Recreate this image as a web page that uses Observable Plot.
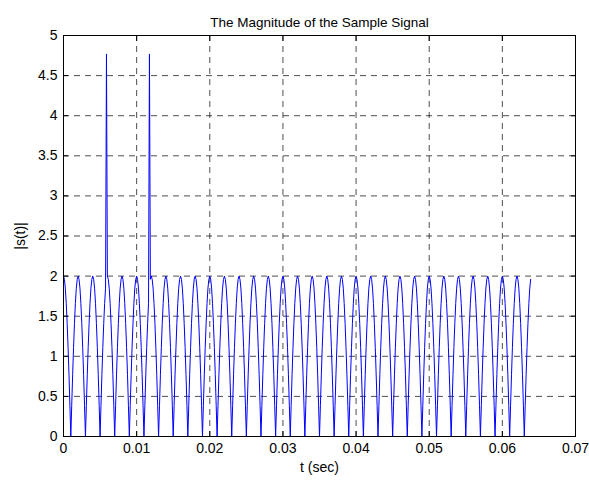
<!DOCTYPE html>
<html><head><meta charset="utf-8">
<script src="https://cdn.jsdelivr.net/npm/d3@7"></script>
<script src="https://cdn.jsdelivr.net/npm/@observablehq/plot@0.6"></script>
<style>body{margin:0;background:#fff;}</style>
</head><body><div id="chart"></div>
<script>
const titleText = "The Magnitude of the Sample Signal";
const xLabel = "t (sec)";
const yLabel = "|s(t)|";
const xTicks = [0, 0.01, 0.02, 0.03, 0.04, 0.05, 0.06, 0.07];
const yTicks = [0, 0.5, 1, 1.5, 2, 2.5, 3, 3.5, 4, 4.5, 5];
const sampleRate = 8000; // samples per second
const magnitude = [
2,1.96,1.85,1.66,1.41,1.11,0.77,0.39,0,0.39,0.77,1.11,1.41,1.66,1.85,1.96,
2,1.96,1.85,1.66,1.41,1.11,0.77,0.39,0,0.39,0.77,1.11,1.41,1.66,1.85,1.96,
2,1.96,1.85,1.66,1.41,1.11,0.77,0.39,0,0.39,0.77,1.11,1.41,1.66,1.85,4.77,
2,1.96,1.85,1.66,1.41,1.11,0.77,0.39,0,0.39,0.77,1.11,1.41,1.66,1.85,1.96,
2,1.96,1.85,1.66,1.41,1.11,0.77,0.39,0,0.39,0.77,1.11,1.41,1.66,1.85,1.96,
2,1.96,1.85,1.66,1.41,1.11,0.77,0.39,0,0.39,0.77,1.11,1.41,1.66,4.77,1.96,
2,1.96,1.85,1.66,1.41,1.11,0.77,0.39,0,0.39,0.77,1.11,1.41,1.66,1.85,1.96,
2,1.96,1.85,1.66,1.41,1.11,0.77,0.39,0,0.39,0.77,1.11,1.41,1.66,1.85,1.96,
2,1.96,1.85,1.66,1.41,1.11,0.77,0.39,0,0.39,0.77,1.11,1.41,1.66,1.85,1.96,
2,1.96,1.85,1.66,1.41,1.11,0.77,0.39,0,0.39,0.77,1.11,1.41,1.66,1.85,1.96,
2,1.96,1.85,1.66,1.41,1.11,0.77,0.39,0,0.39,0.77,1.11,1.41,1.66,1.85,1.96,
2,1.96,1.85,1.66,1.41,1.11,0.77,0.39,0,0.39,0.77,1.11,1.41,1.66,1.85,1.96,
2,1.96,1.85,1.66,1.41,1.11,0.77,0.39,0,0.39,0.77,1.11,1.41,1.66,1.85,1.96,
2,1.96,1.85,1.66,1.41,1.11,0.77,0.39,0,0.39,0.77,1.11,1.41,1.66,1.85,1.96,
2,1.96,1.85,1.66,1.41,1.11,0.77,0.39,0,0.39,0.77,1.11,1.41,1.66,1.85,1.96,
2,1.96,1.85,1.66,1.41,1.11,0.77,0.39,0,0.39,0.77,1.11,1.41,1.66,1.85,1.96,
2,1.96,1.85,1.66,1.41,1.11,0.77,0.39,0,0.39,0.77,1.11,1.41,1.66,1.85,1.96,
2,1.96,1.85,1.66,1.41,1.11,0.77,0.39,0,0.39,0.77,1.11,1.41,1.66,1.85,1.96,
2,1.96,1.85,1.66,1.41,1.11,0.77,0.39,0,0.39,0.77,1.11,1.41,1.66,1.85,1.96,
2,1.96,1.85,1.66,1.41,1.11,0.77,0.39,0,0.39,0.77,1.11,1.41,1.66,1.85,1.96,
2,1.96,1.85,1.66,1.41,1.11,0.77,0.39,0,0.39,0.77,1.11,1.41,1.66,1.85,1.96,
2,1.96,1.85,1.66,1.41,1.11,0.77,0.39,0,0.39,0.77,1.11,1.41,1.66,1.85,1.96,
2,1.96,1.85,1.66,1.41,1.11,0.77,0.39,0,0.39,0.77,1.11,1.41,1.66,1.85,1.96,
2,1.96,1.85,1.66,1.41,1.11,0.77,0.39,0,0.39,0.77,1.11,1.41,1.66,1.85,1.96,
2,1.96,1.85,1.66,1.41,1.11,0.77,0.39,0,0.39,0.77,1.11,1.41,1.66,1.85,1.96,
2,1.96,1.85,1.66,1.41,1.11,0.77,0.39,0,0.39,0.77,1.11,1.41,1.66,1.85,1.96,
2,1.96,1.85,1.66,1.41,1.11,0.77,0.39,0,0.39,0.77,1.11,1.41,1.66,1.85,1.96,
2,1.96,1.85,1.66,1.41,1.11,0.77,0.39,0,0.39,0.77,1.11,1.41,1.66,1.85,1.96,
2,1.96,1.85,1.66,1.41,1.11,0.77,0.39,0,0.39,0.77,1.11,1.41,1.66,1.85,1.96,
2,1.96,1.85,1.66,1.41,1.11,0.77,0.39,0,0.39,0.77,1.11,1.41,1.66,1.85,1.96,
2,1.96,1.85,1.66,1.41,1.11,0.77,0.39,0,0.39,0.77,1.11,1.41,1.66,1.85,1.96,
2,1.96,1.85,1.66,1.41,1.11,0.77,0.39,0,0.39,0.77,1.11,1.41,1.66,1.85,1.96
];

const data = magnitude.map((v, i) => ({t: i / sampleRate, v}));
const fmt = d => String(d);
const blank = () => "";

const chart = Plot.plot({
  width: 589,
  height: 480,
  marginLeft: 63,
  marginRight: 14,
  marginTop: 35,
  marginBottom: 44,
  style: {fontFamily: "'Liberation Sans', Arial, sans-serif", fontSize: "14px", color: "#000", background: "#fff"},
  x: {domain: [0, 0.07]},
  y: {domain: [0, 5]},
  marks: [
    Plot.gridX(xTicks, {stroke: "#000", strokeOpacity: 1, strokeWidth: 0.7, strokeDasharray: "6,5"}),
    Plot.gridY(yTicks, {stroke: "#000", strokeOpacity: 1, strokeWidth: 0.7, strokeDasharray: "6,5"}),
    Plot.line(data, {x: "t", y: "v", stroke: "#0000ff", strokeWidth: 1}),
    Plot.frame({stroke: "#000", strokeWidth: 1}),
    Plot.axisX(xTicks, {anchor: "bottom", tickSize: -5, tickPadding: 12, tickFormat: fmt, fontSize: 14, label: xLabel, labelAnchor: "center", labelArrow: "none", labelOffset: 35}),
    Plot.axisX(xTicks, {anchor: "top", tickSize: -5, tickFormat: blank, label: null}),
    Plot.axisY(yTicks, {anchor: "left", tickSize: -5, tickPadding: 11, tickFormat: fmt, fontSize: 14, label: yLabel, labelAnchor: "center", labelArrow: "none", labelOffset: 48}),
    Plot.axisY(yTicks, {anchor: "right", tickSize: -5, tickFormat: blank, label: null}),
    Plot.text([titleText], {frameAnchor: "top", dy: -18, fontSize: 13.5})
  ]
});
document.getElementById("chart").appendChild(chart);
</script>
</body></html>
